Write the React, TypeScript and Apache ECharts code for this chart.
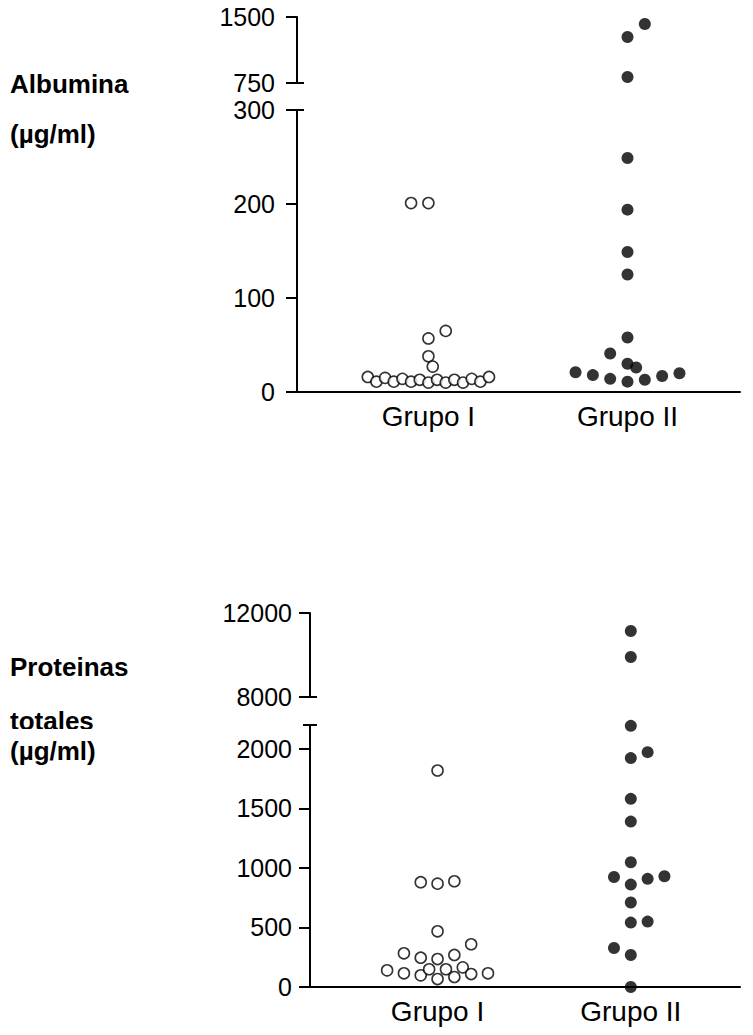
import React, { useEffect, useRef } from "react";
import * as echarts from "echarts";

const groupLabels = ["Grupo I", "Grupo II"];

// Albumina (µg/ml) — broken axis: lower 0–300, upper 750–1500
const albLowerRange = [0, 300];
const albUpperRange = [750, 1500];
const albTicksLower = [0, 100, 200, 300];
const albTicksUpper = [750, 1500];
const albGroupI = [201, 201, 65, 57, 38, 27, 16, 11, 15, 11, 14, 11, 13, 10, 13, 10, 13, 10, 14, 11, 16];
const albGroupISlot = [-2, 0, 2, 0, 0, 0.5, -7, -6, -5, -4, -3, -2, -1, 0, 1, 2, 3, 4, 5, 6, 7];
const albGroupII = [1420, 1273, 818, 249, 194, 149, 125, 58, 41, 30, 26, 21, 18, 14, 11, 13, 17, 20];
const albGroupIISlot = [2, 0, 0, 0, 0, 0, 0, 0, -2, 0, 1, -6, -4, -2, 0, 2, 4, 6];

// Proteinas totales (µg/ml) — broken axis: lower 0–2200, upper 8000–12000
const protLowerRange = [0, 2200];
const protUpperRange = [8000, 12000];
const protTicksLower = [0, 500, 1000, 1500, 2000];
const protTicksUpper = [8000, 12000];
const protGroupI = [1818, 880, 868, 888, 468, 359, 283, 246, 235, 269, 140, 115, 98, 149, 149, 67, 84, 165, 109, 115];
const protGroupISlot = [0, -2, 0, 2, 0, 4, -4, -2, 0, 2, -6, -4, -2, -1, 1, 0, 2, 3, 4, 6];
const protGroupII = [11143, 9905, 2193, 1922, 1972, 1580, 1389, 1048, 924, 860, 908, 930, 709, 541, 549, 328, 269, 0];
const protGroupIISlot = [0, 0, 0, 0, 2, 0, 0, 0, -2, 0, 2, 4, 0, 0, 2, -2, 0, 0];

const XMIN = 0.34;
const XMAX = 2.565;
const SLOT = 0.0435;
const FONT = "'Liberation Sans', Arial, Helvetica, sans-serif";

function pts(values: number[], slots: number[], group: number, range: number[]) {
  return values
    .map((v, i) => [group + slots[i] * SLOT, v])
    .filter((p) => p[1] >= range[0] && p[1] <= range[1]);
}

export default function App() {
  const ref = useRef<HTMLDivElement>(null);
  useEffect(() => {
    if (!ref.current) return;
    const chart = echarts.init(ref.current, null, { renderer: "svg" });

    const grids = [
      { left: 297, top: 17, width: 443, height: 66 },
      { left: 297, top: 110, width: 443, height: 282 },
      { left: 310, top: 613, width: 430, height: 84 },
      { left: 310, top: 725, width: 430, height: 262 },
    ];
    const ranges = [albUpperRange, albLowerRange, protUpperRange, protLowerRange];
    const ticks = [albTicksUpper, albTicksLower, protTicksUpper, protTicksLower];
    const margins = [22, 22, 18, 18];

    const xAxis = grids.map((_, i) => {
      const showX = i === 1 || i === 3;
      return {
        type: "value",
        gridIndex: i,
        min: XMIN,
        max: XMAX,
        show: showX,
        axisLine: { show: showX, onZero: false, lineStyle: { color: "#000", width: 2 } },
        axisTick: { show: false },
        splitLine: { show: false },
        axisLabel: {
          show: showX,
          customValues: [1, 2],
          formatter: (v: number) => groupLabels[Math.round(v) - 1],
          fontSize: 28,
          color: "#000",
          fontFamily: FONT,
          margin: 10,
        },
      };
    });

    const yAxis = grids.map((_, i) => ({
      type: "value",
      gridIndex: i,
      min: ranges[i][0],
      max: ranges[i][1],
      axisLine: { show: true, onZero: false, lineStyle: { color: "#000", width: 2 } },
      axisTick: { show: true, length: 11, customValues: ticks[i], lineStyle: { color: "#000", width: 2 } },
      splitLine: { show: false },
      axisLabel: {
        customValues: ticks[i],
        formatter: (v: number) => String(v),
        fontSize: 25,
        color: "#000",
        fontFamily: FONT,
        margin: margins[i],
        padding: [5, 0, 0, 0],
      },
    }));

    const open = { color: "#fff", borderColor: "#000", borderWidth: 1.6 };
    const filled = { color: "#000" };
    const series: any[] = [];
    const addPair = (gi: number, gI: number[], gIs: number[], gII: number[], gIIs: number[]) => {
      series.push({
        type: "scatter",
        xAxisIndex: gi,
        yAxisIndex: gi,
        symbolSize: 11,
        itemStyle: open,
        clip: false,
        data: pts(gI, gIs, 1, ranges[gi]),
      });
      series.push({
        type: "scatter",
        xAxisIndex: gi,
        yAxisIndex: gi,
        symbolSize: 12,
        itemStyle: filled,
        clip: false,
        data: pts(gII, gIIs, 2, ranges[gi]),
      });
    };
    addPair(0, albGroupI, albGroupISlot, albGroupII, albGroupIISlot);
    addPair(1, albGroupI, albGroupISlot, albGroupII, albGroupIISlot);
    addPair(2, protGroupI, protGroupISlot, protGroupII, protGroupIISlot);
    addPair(3, protGroupI, protGroupISlot, protGroupII, protGroupIISlot);

    chart.setOption({
      animation: false,
      backgroundColor: "#fff",
      grid: grids,
      xAxis,
      yAxis,
      series,
    });

    // break caps on the y axes, positioned through the axes' scales
    const caps: any[] = [];
    const capLine = (axisIdx: number, value: number, leftLen: number, rightLen: number) => {
      const x = chart.convertToPixel({ xAxisIndex: axisIdx } as any, XMIN) as number;
      const y = chart.convertToPixel({ yAxisIndex: axisIdx } as any, value) as number;
      caps.push({
        type: "line",
        shape: { x1: x - leftLen, y1: y, x2: x + rightLen, y2: y },
        style: { stroke: "#000", lineWidth: 2 },
        silent: true,
      });
    };
    capLine(0, albUpperRange[0], 0, 7);
    capLine(1, albLowerRange[1], 7, 7);
    capLine(2, protUpperRange[0], 0, 7);
    capLine(3, protLowerRange[1], 7, 7);

    const title = (text: string, y: number, z = 10) => ({
      type: "text",
      left: 10,
      top: y,
      z,
      style: {
        text,
        fill: "#000",
        font: `bold 26px ${FONT}`,
      },
    });

    chart.setOption({
      graphic: [
        ...caps,
        title("Albumina", 71),
        title("(µg/ml)", 121),
        title("Proteinas", 654),
        title("totales", 708, 10),
        {
          type: "rect",
          left: 0,
          top: 729,
          z: 11,
          shape: { width: 160, height: 9 },
          style: { fill: "#fff" },
          silent: true,
        },
        title("(µg/ml)", 738, 12),
      ],
    });

    return () => chart.dispose();
  }, []);

  return (
    <div
      ref={ref}
      style={{ position: "absolute", left: 0, top: 0, width: 753, height: 1035 }}
    />
  );
}
